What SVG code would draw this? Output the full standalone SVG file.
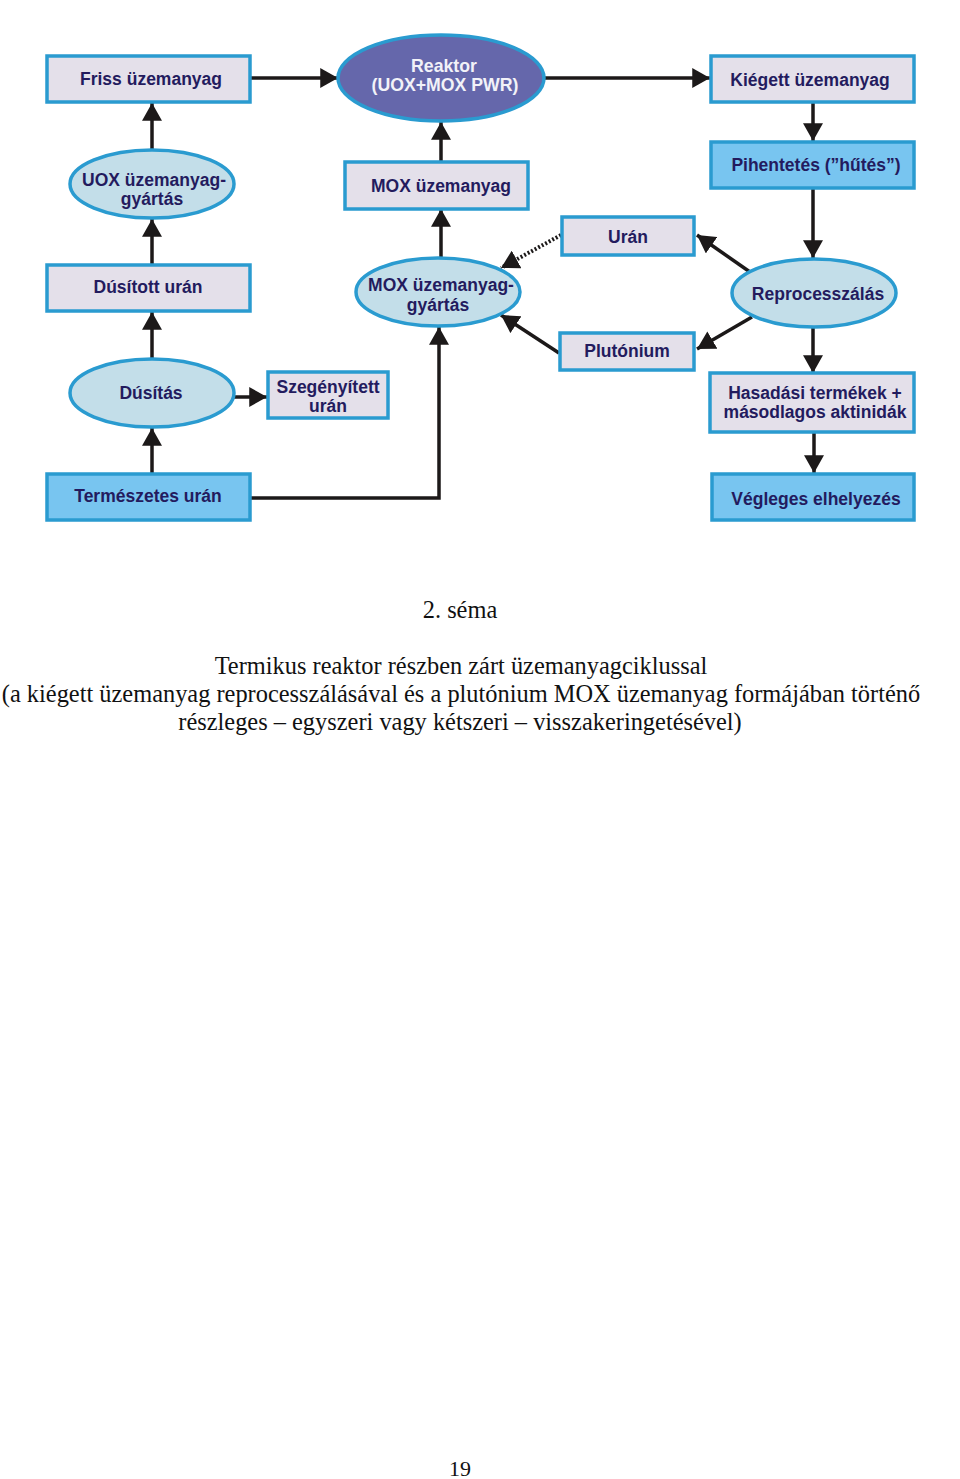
<svg xmlns="http://www.w3.org/2000/svg" width="960" height="1479" viewBox="0 0 960 1479">
<style>
.box{fill:#E4E0EA;stroke:#2A9BD0;stroke-width:3.5}
.boxb{fill:#78C5F0;stroke:#2A9BD0;stroke-width:3.5}
.ell{fill:#C3DEE9;stroke:#2A9BD0;stroke-width:3.5}
.react{fill:#6567AB;stroke:#2A9BD0;stroke-width:3.5}
.t{font-family:"Liberation Sans",Arial,sans-serif;font-weight:bold;font-size:17.5px;fill:#231B5E;text-anchor:middle}
.tw{font-family:"Liberation Sans",Arial,sans-serif;font-weight:bold;font-size:17.7px;fill:#F2F2F8;text-anchor:middle}
.c{font-family:"Liberation Serif","Times New Roman",serif;font-size:24.4px;fill:#111;text-anchor:middle}
.pn{font-family:"Liberation Serif","Times New Roman",serif;font-size:22px;fill:#111;text-anchor:middle}
.ln{fill:none;stroke:#1C1919;stroke-width:3.5}
.dot{fill:none;stroke:#1C1919;stroke-width:4;stroke-dasharray:2 2}
</style>
<defs>
<marker id="ah" markerUnits="userSpaceOnUse" markerWidth="18" markerHeight="20" viewBox="0 0 16 18" refX="16" refY="9" orient="auto">
<path d="M0,0 L16,9 L0,18 Z" fill="#1C1919"/>
</marker>
</defs>
<rect width="960" height="1479" fill="#FFFFFF"/>
<g id="connectors">
<line class="ln" x1="251" y1="78" x2="338" y2="78" marker-end="url(#ah)"/>
<line class="ln" x1="544" y1="78" x2="710" y2="78" marker-end="url(#ah)"/>
<line class="ln" x1="152" y1="150" x2="152" y2="103" marker-end="url(#ah)"/>
<line class="ln" x1="441" y1="162" x2="441" y2="122" marker-end="url(#ah)"/>
<line class="ln" x1="813" y1="103" x2="813" y2="141" marker-end="url(#ah)"/>
<line class="ln" x1="152" y1="264" x2="152" y2="219" marker-end="url(#ah)"/>
<line class="ln" x1="441" y1="258" x2="441" y2="209" marker-end="url(#ah)"/>
<line class="ln" x1="813" y1="189" x2="813" y2="258" marker-end="url(#ah)"/>
<line class="ln" x1="750" y1="272" x2="697" y2="235" marker-end="url(#ah)"/>
<line class="dot" x1="561" y1="235" x2="501" y2="268" marker-end="url(#ah)"/>
<line class="ln" x1="752" y1="317" x2="697" y2="349" marker-end="url(#ah)"/>
<line class="ln" x1="559" y1="353" x2="501" y2="315" marker-end="url(#ah)"/>
<line class="ln" x1="152" y1="358" x2="152" y2="312" marker-end="url(#ah)"/>
<line class="ln" x1="234" y1="397" x2="267" y2="397" marker-end="url(#ah)"/>
<line class="ln" x1="152" y1="473" x2="152" y2="428" marker-end="url(#ah)"/>
<polyline class="ln" points="251,498 439,498 439,327" marker-end="url(#ah)"/>
<line class="ln" x1="813" y1="328" x2="813" y2="373" marker-end="url(#ah)"/>
<line class="ln" x1="814" y1="433" x2="814" y2="473" marker-end="url(#ah)"/>
</g>
<g id="friss"><rect class="box" x="47" y="56" width="203" height="46"/><text class="t" x="151" y="85">Friss üzemanyag</text></g>
<g id="reaktor"><ellipse class="react" cx="441" cy="78" rx="103" ry="43"/><text class="tw" x="444" y="72">Reaktor</text><text class="tw" x="445" y="91">(UOX+MOX PWR)</text></g>
<g id="kiegett"><rect class="box" x="711" y="56" width="203" height="46"/><text class="t" x="810" y="86">Kiégett üzemanyag</text></g>
<g id="uox"><ellipse class="ell" cx="152" cy="184" rx="82" ry="34"/><text class="t" x="154" y="186">UOX üzemanyag-</text><text class="t" x="152" y="205">gyártás</text></g>
<g id="moxuz"><rect class="box" x="345" y="162" width="183" height="47"/><text class="t" x="441" y="192">MOX üzemanyag</text></g>
<g id="pihentetes"><rect class="boxb" x="711" y="142" width="203" height="46"/><text class="t" x="816" y="171">Pihentetés (”hűtés”)</text></g>
<g id="uran"><rect class="box" x="562" y="217" width="132" height="38"/><text class="t" x="628" y="243">Urán</text></g>
<g id="dusitott"><rect class="box" x="47" y="265" width="203" height="46"/><text class="t" x="148" y="293">Dúsított urán</text></g>
<g id="moxgy"><ellipse class="ell" cx="438" cy="292" rx="82" ry="34"/><text class="t" x="441" y="291">MOX üzemanyag-</text><text class="t" x="438" y="311">gyártás</text></g>
<g id="repro"><ellipse class="ell" cx="814" cy="293" rx="82" ry="34"/><text class="t" x="818" y="300">Reprocesszálás</text></g>
<g id="plutonium"><rect class="box" x="560" y="333" width="134" height="37"/><text class="t" x="627" y="357">Plutónium</text></g>
<g id="dusitas"><ellipse class="ell" cx="152" cy="393" rx="82" ry="34"/><text class="t" x="151" y="399">Dúsítás</text></g>
<g id="szegenyitett"><rect class="box" x="268" y="372" width="120" height="46"/><text class="t" x="328" y="393">Szegényített</text><text class="t" x="328" y="412">urán</text></g>
<g id="hasadasi"><rect class="box" x="710" y="373" width="204" height="59"/><text class="t" x="815" y="399">Hasadási termékek +</text><text class="t" x="815" y="418">másodlagos aktinidák</text></g>
<g id="termeszetes"><rect class="boxb" x="47" y="474" width="203" height="46"/><text class="t" x="148" y="502">Természetes urán</text></g>
<g id="vegleges"><rect class="boxb" x="712" y="474" width="202" height="46"/><text class="t" x="816" y="505">Végleges elhelyezés</text></g>
<g id="caption">
<text class="c" x="460" y="618">2. séma</text>
<text class="c" x="461" y="674">Termikus reaktor részben zárt üzemanyagciklussal</text>
<text class="c" x="461" y="702">(a kiégett üzemanyag reprocesszálásával és a plutónium MOX üzemanyag formájában történő</text>
<text class="c" x="460" y="730">részleges – egyszeri vagy kétszeri – visszakeringetésével)</text>
<text class="pn" x="460" y="1476">19</text>
</g>
</svg>
